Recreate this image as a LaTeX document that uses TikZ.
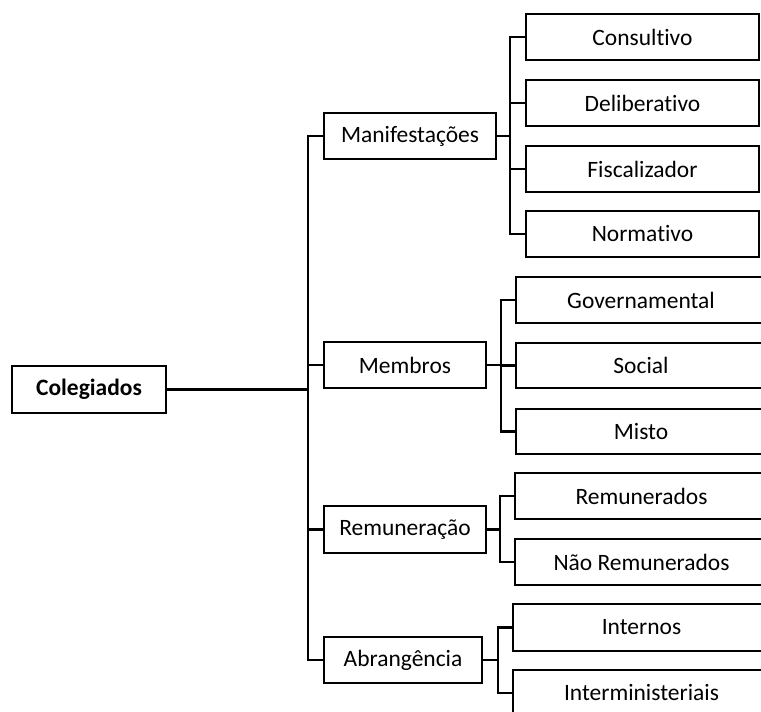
\documentclass[tikz,border=0pt]{standalone}
\usepackage{fontspec}
\setmainfont{Carlito}[Ligatures=NoCommon]
\begin{document}
\begin{tikzpicture}[x=0.75pt,y=-0.75pt,
  every node/.style={font=\fontsize{17.6}{20}\selectfont},
  box/.style 2 args={draw,line width=1.7pt,inner sep=0pt,minimum width=#1*0.75pt,minimum height=#2*0.75pt},
  conn/.style={line width=1.7pt,line join=miter}]
\useasboundingbox (0,0) rectangle (761,711);
\clip (0,0) rectangle (761,711);
% root
\node[box={154}{47},font=\fontsize{17.6}{20}\selectfont\bfseries] (col) at (89,389.5) {Colegiados};
% level 1
\node[box={172}{46}] (man) at (410,136) {Manifestações};
\node[box={162}{46}] (mem) at (405,365) {Membros};
\node[box={162}{47}] (rem) at (405,529.5) {Remuneração};
\node[box={158}{46}] (abr) at (403,660) {Abrangência};
% level 2
\node[box={233}{46}] (con) at (642.5,37) {Consultivo};
\node[box={233}{46}] (del) at (642.5,103) {Deliberativo};
\node[box={233}{46}] (fis) at (642.5,169) {Fiscalizador};
\node[box={233}{46}] (nor) at (642.5,234) {Normativo};
\node[box={250}{46}] (gov) at (641,300) {Governamental};
\node[box={250}{45}] (soc) at (641,365.5) {Social};
\node[box={250}{45}] (mis) at (641,431.5) {Misto};
\node[box={253}{46}] (rmd) at (641.5,496) {Remunerados};
\node[box={253}{46}] (nrm) at (641.5,562) {Não Remunerados};
\node[box={257}{47}] (int) at (641.5,627.5) {Internos};
\node[box={257}{46}] (imi) at (641.5,693) {Interministeriais};
% bus coordinates
\coordinate (tr) at (308,0);
\coordinate (bman) at (510,0);
\coordinate (bmem) at (501,0);
\coordinate (brem) at (500,0);
\coordinate (babr) at (498,0);
% trunk
\draw[conn] (col.east) -- (col.east -| tr);
\draw[conn] (man.west) -- (man.west -| tr) -- (abr.west -| tr) -- (abr.west);
\draw[conn] (mem.west) -- (mem.west -| tr);
\draw[conn] (rem.west) -- (rem.west -| tr);
% Manifestacoes
\draw[conn] (man.east) -- (man.east -| bman);
\draw[conn] (con.west) -- (con.west -| bman) -- (nor.west -| bman) -- (nor.west);
\draw[conn] (del.west) -- (del.west -| bman);
\draw[conn] (fis.west) -- (fis.west -| bman);
% Membros
\draw[conn] (mem.east) -- (mem.east -| bmem);
\draw[conn] (gov.west) -- (gov.west -| bmem) -- (mis.west -| bmem) -- (mis.west);
\draw[conn] (soc.west) -- (soc.west -| bmem);
% Remuneracao
\draw[conn] (rem.east) -- (rem.east -| brem);
\draw[conn] (rmd.west) -- (rmd.west -| brem) -- (nrm.west -| brem) -- (nrm.west);
% Abrangencia
\draw[conn] (abr.east) -- (abr.east -| babr);
\draw[conn] (int.west) -- (int.west -| babr) -- (imi.west -| babr) -- (imi.west);
\end{tikzpicture}
\end{document}
